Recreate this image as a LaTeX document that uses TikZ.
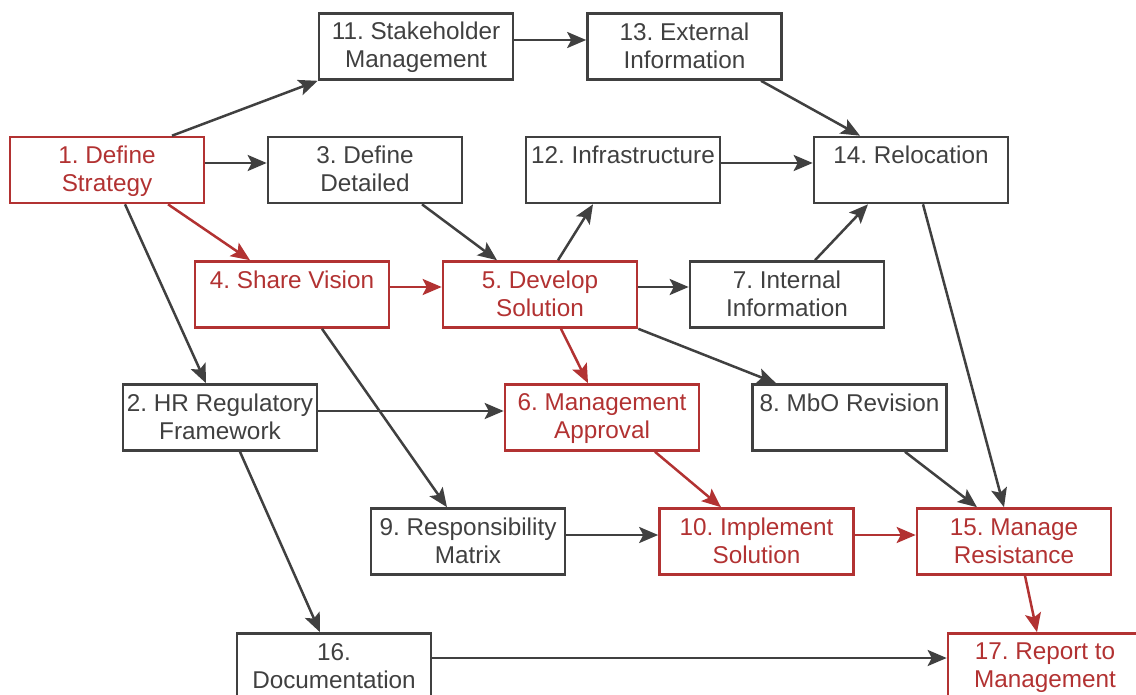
\documentclass[tikz,border=0pt]{standalone}
\usepackage{fontspec}
\setmainfont{Liberation Sans}
\usetikzlibrary{arrows.meta}
\definecolor{dk}{RGB}{64,64,64}
\definecolor{rd}{RGB}{178,50,50}
\newcommand{\bxs}{\rule[-4pt]{0pt}{24pt}}
\frenchspacing
\begin{document}
\begin{tikzpicture}[x=1pt,y=-1pt,
  box/.style={draw=dk,text=dk,line width=2.6pt,minimum width=194pt,minimum height=66pt,
    inner sep=0pt,align=center,font=\fontsize{24.3pt}{28pt}\selectfont},
  redbox/.style={box,draw=rd,text=rd},
  arr/.style={draw=dk,line width=2.5pt,-{Stealth[length=19pt,width=16pt,inset=4pt]}},
  rarr/.style={arr,draw=rd,fill=rd}]
\useasboundingbox (0,0) rectangle (1136,695);
\clip (0,0) rectangle (1136,695);
% nodes
\node[redbox] (n1)  at (107,170)   {\bxs 1. Define\\Strategy\bxs};
\node[box]    (n11) at (416,46.5)  {\bxs 11. Stakeholder\\Management\bxs};
\node[box]    (n13) at (684.5,46.5){\bxs 13. External\\Information\bxs};
\node[box]    (n3)  at (365,170)   {\bxs 3. Define\\Detailed\bxs};
\node[box]    (n12) at (623,170)   {\bxs 12. Infrastructure\\\bxs};
\node[box]    (n14) at (911,170)   {\bxs 14. Relocation\\\bxs};
\node[redbox] (n4)  at (292,294.5) {\bxs 4. Share Vision\\\bxs};
\node[redbox] (n5)  at (540,294.5) {\bxs 5. Develop\\Solution\bxs};
\node[box]    (n7)  at (787,294.5) {\bxs 7. Internal\\Information\bxs};
\node[box]    (n2)  at (220,417.5) {\bxs 2. HR Regulatory\\Framework\bxs};
\node[redbox] (n6)  at (602,417.5) {\bxs 6. Management\\Approval\bxs};
\node[box]    (n8)  at (849.5,417.5){\bxs 8. MbO Revision\\\bxs};
\node[box]    (n9)  at (468,541.5) {\bxs 9. Responsibility\\Matrix\bxs};
\node[redbox] (n10) at (756.5,541.5){\bxs 10. Implement\\Solution\bxs};
\node[redbox] (n15) at (1014,541.5){\bxs 15. Manage\\Resistance\bxs};
\node[box]    (n16) at (334,666.5) {\bxs 16.\\Documentation\bxs};
\node[redbox] (n17) at (1045,666.5){\bxs 17. Report to\\Management\bxs};
% connectors
\draw[arr]  ([xshift=65pt]n1.north) -- (n11.south west);
\draw[arr]  ([yshift=7pt]n1.east) -- ([yshift=7pt]n3.west);
\draw[rarr] ([xshift=61pt]n1.south) -- ([xshift=-42pt]n4.north);
\draw[arr]  ([xshift=18pt]n1.south) -- ([xshift=-14pt]n2.north);
\draw[arr]  ([yshift=6.5pt]n11.east) -- ([yshift=6.5pt]n13.west);
\draw[arr]  ([xshift=76.5pt]n13.south) -- ([xshift=-51pt]n14.north);
\draw[arr]  ([xshift=57pt]n3.south) -- ([xshift=-43pt]n5.north);
\draw[arr]  ([yshift=7pt]n12.east) -- ([yshift=7pt]n14.west);
\draw[arr]  ([xshift=18pt]n5.north) -- ([xshift=-30pt]n12.south);
\draw[rarr] ([yshift=7.5pt]n4.east) -- ([yshift=7.5pt]n5.west);
\draw[arr]  ([yshift=7.5pt]n5.east) -- ([yshift=7.5pt]n7.west);
\draw[arr]  ([xshift=28pt]n7.north) -- ([xshift=-43pt]n14.south);
\draw[arr]  ([xshift=12pt]n14.south) -- ([xshift=-10pt]n15.north);
\draw[rarr] ([xshift=21pt]n5.south) -- ([xshift=-14pt]n6.north);
\draw[arr]  (n5.south east) -- ([xshift=-73.5pt]n8.north);
\draw[arr]  ([yshift=6.5pt]n2.east) -- ([yshift=6.5pt]n6.west);
\draw[arr]  ([xshift=30pt]n4.south) -- ([xshift=-21pt]n9.north);
\draw[arr]  ([xshift=20pt]n2.south) -- ([xshift=-14pt]n16.north);
\draw[rarr] ([xshift=53pt]n6.south) -- ([xshift=-35.5pt]n10.north);
\draw[arr]  ([xshift=55.5pt]n8.south) -- ([xshift=-37pt]n15.north);
\draw[arr]  ([yshift=6.5pt]n9.east) -- ([yshift=6.5pt]n10.west);
\draw[rarr] ([yshift=6.5pt]n10.east) -- ([yshift=6.5pt]n15.west);
\draw[rarr] ([xshift=11pt]n15.south) -- ([xshift=-8pt]n17.north);
\draw[arr]  ([yshift=8.5pt]n16.east) -- ([yshift=8.5pt]n17.west);
\end{tikzpicture}
\end{document}
